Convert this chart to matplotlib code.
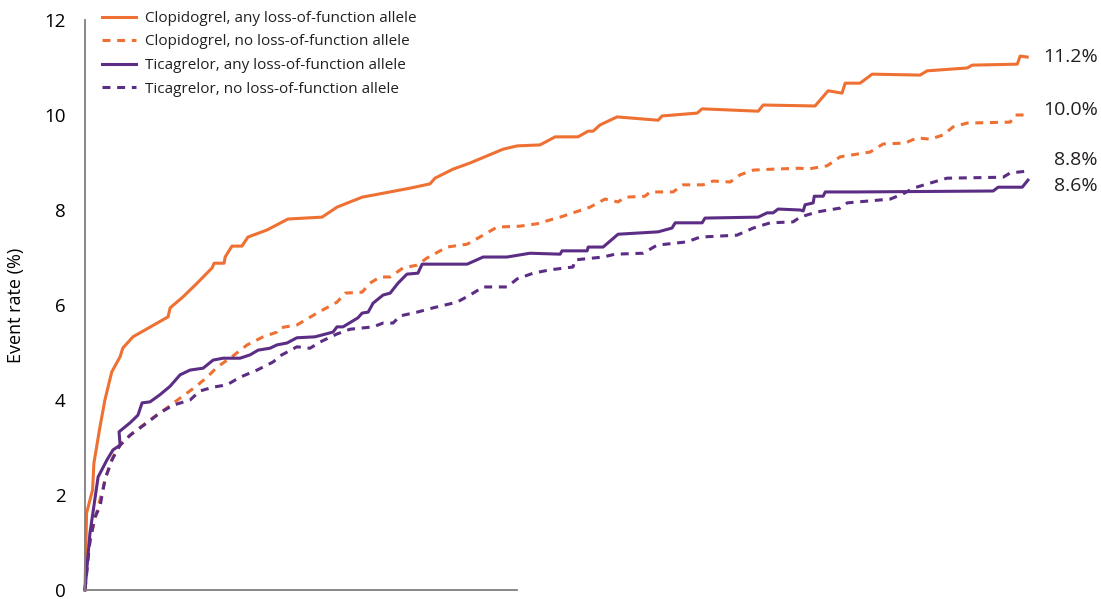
import matplotlib.pyplot as plt
import matplotlib.transforms as mtransforms

# Kaplan-Meier style cumulative event rate (%), x = days since randomisation
clop_any_days = [0, 0.6, 2.9, 3.4, 5.7, 7.6, 10.2, 13.4, 14.4, 18.3, 31.7, 32.5, 37.4, 42.8,
                 48.5, 49.3, 53.1, 53.5, 56.1, 59.9, 62.2, 69.5, 77.5, 90.5, 96.2, 105.8,
                 124.1, 131.7, 133.6, 140.5, 147.0, 159.6, 165.0, 173.7, 179.5, 188.2, 192.1,
                 194.0, 196.6, 203.1, 218.8, 220.3, 233.7, 235.6, 257.0, 258.9, 278.7, 283.7,
                 289.0, 290.2, 295.9, 300.5, 318.8, 321.5, 336.8, 338.7, 355.9, 357.0, 359.7]
clop_any_rate = [0, 1.62, 2.11, 2.67, 3.43, 4.00, 4.59, 4.91, 5.09, 5.33, 5.75, 5.94, 6.17, 6.46,
                 6.78, 6.88, 6.88, 7.01, 7.24, 7.24, 7.43, 7.58, 7.81, 7.85, 8.06, 8.27,
                 8.46, 8.55, 8.67, 8.86, 8.99, 9.28, 9.35, 9.37, 9.54, 9.54, 9.66,
                 9.66, 9.79, 9.96, 9.89, 9.98, 10.04, 10.13, 10.08, 10.21, 10.19, 10.51,
                 10.46, 10.67, 10.67, 10.86, 10.84, 10.93, 10.99, 11.05, 11.07, 11.24, 11.22]

clop_no_days = [0, 1.1, 3.1, 5.0, 8.4, 10.7, 13.4, 18.3, 24.8, 31.7, 36.3, 42.0, 46.6, 50.4,
                56.1, 61.9, 68.0, 73.3, 74.5, 80.9, 88.6, 96.2, 99.3, 105.8, 108.8, 112.6,
                116.5, 121.4, 126.8, 130.6, 138.2, 145.9, 152.0, 157.3, 166.1, 172.6, 177.5,
                181.4, 192.8, 198.5, 203.5, 206.2, 213.8, 215.7, 224.5, 228.3, 236.0, 239.8,
                246.3, 250.1, 255.1, 262.7, 273.0, 275.7, 283.3, 288.3, 299.7, 304.7, 313.1,
                317.7, 322.6, 327.6, 331.4, 336.8, 353.2, 355.1, 360.0]
clop_no_rate = [0, 0.78, 1.33, 1.75, 2.46, 2.80, 3.05, 3.31, 3.58, 3.85, 4.04, 4.27, 4.48, 4.69,
                4.91, 5.16, 5.33, 5.43, 5.52, 5.58, 5.83, 6.06, 6.25, 6.27, 6.46, 6.59,
                6.59, 6.78, 6.84, 6.99, 7.22, 7.28, 7.47, 7.64, 7.66, 7.71, 7.79,
                7.85, 8.06, 8.23, 8.17, 8.27, 8.29, 8.38, 8.38, 8.53, 8.53, 8.61,
                8.59, 8.74, 8.84, 8.86, 8.88, 8.86, 8.93, 9.12, 9.22, 9.39, 9.41,
                9.52, 9.49, 9.58, 9.75, 9.83, 9.85, 10.00, 10.00]

tica_any_days = [0, 1.9, 5.0, 8.4, 10.7, 13.4, 13.0, 17.2, 20.2, 21.8, 24.8, 28.6, 32.5, 36.3,
                 40.1, 45.1, 48.9, 52.7, 59.2, 63.0, 66.1, 70.6, 73.3, 77.1, 80.9, 87.8, 94.7,
                 96.2, 98.5, 104.2, 105.8, 108.1, 110.0, 113.8, 116.5, 119.5, 122.9, 127.1,
                 128.7, 145.9, 152.0, 161.1, 169.9, 181.4, 182.1, 191.7, 192.1, 197.8, 203.5,
                 218.8, 224.1, 225.3, 235.6, 236.7, 257.0, 260.4, 262.7, 264.6, 273.0, 274.2,
                 274.9, 278.0, 278.4, 281.8, 282.6, 294.8, 346.7, 348.6, 357.8, 360.0]
tica_any_rate = [0, 1.20, 2.38, 2.74, 2.95, 3.05, 3.33, 3.52, 3.68, 3.94, 3.96, 4.11, 4.29, 4.53,
                 4.63, 4.67, 4.84, 4.88, 4.88, 4.95, 5.05, 5.09, 5.16, 5.20, 5.31, 5.33, 5.43,
                 5.54, 5.54, 5.73, 5.83, 5.85, 6.04, 6.21, 6.25, 6.46, 6.65, 6.67,
                 6.86, 6.86, 7.01, 7.01, 7.09, 7.07, 7.14, 7.14, 7.22, 7.22, 7.49,
                 7.54, 7.62, 7.73, 7.73, 7.83, 7.85, 7.94, 7.94, 8.02, 8.00, 7.98,
                 8.11, 8.15, 8.29, 8.29, 8.38, 8.38, 8.40, 8.48, 8.48, 8.63]

tica_no_days = [0, 1.9, 3.8, 5.7, 7.6, 10.3, 13.4, 17.2, 23.7, 28.6, 33.6, 40.1, 43.9, 48.9,
                54.2, 59.2, 65.7, 71.8, 74.5, 80.9, 85.9, 89.7, 96.2, 101.2, 110.0, 113.8,
                117.6, 120.3, 126.8, 132.9, 142.0, 147.0, 152.0, 161.1, 165.0, 171.1, 177.5,
                186.3, 187.1, 197.8, 202.4, 213.1, 218.4, 229.9, 234.8, 248.9, 255.1, 261.6,
                270.3, 273.0, 279.5, 288.3, 291.0, 307.4, 312.3, 316.2, 325.3, 329.1, 350.5,
                353.2, 360.0]
tica_no_rate = [0, 1.05, 1.54, 1.75, 2.32, 2.74, 3.05, 3.26, 3.52, 3.73, 3.89, 4.00, 4.19, 4.27,
                4.32, 4.48, 4.63, 4.80, 4.93, 5.12, 5.09, 5.22, 5.39, 5.49, 5.54, 5.62,
                5.62, 5.77, 5.85, 5.94, 6.06, 6.21, 6.38, 6.38, 6.55, 6.67, 6.74,
                6.80, 6.95, 7.01, 7.07, 7.09, 7.26, 7.33, 7.43, 7.47, 7.62, 7.73,
                7.75, 7.85, 7.96, 8.04, 8.15, 8.23, 8.34, 8.46, 8.61, 8.67, 8.69,
                8.78, 8.82]

labels = ["Clopidogrel, any loss-of-function allele",
          "Clopidogrel, no loss-of-function allele",
          "Ticagrelor, any loss-of-function allele",
          "Ticagrelor, no loss-of-function allele"]
end_labels = ["11.2%", "10.0%", "8.8%", "8.6%"]
end_label_y = [11.22, 10.1, 9.05, 8.5]   # label placement (nudged apart like the original)
y_ticks = [0, 2, 4, 6, 8, 10, 12]

ORANGE = '#EE7032'
PURPLE = '#5C2D84'

plt.rcParams['font.family'] = ['Open Sans', 'DejaVu Sans']

fig = plt.figure(figsize=(11.01, 5.99), dpi=100)
ax = fig.add_axes([85 / 1101, 9 / 599, 943 / 1101, 570 / 599])

lw = 2.2
dash = (0, (2.6, 2.2))
ax.plot(clop_any_days, clop_any_rate, color=ORANGE, lw=lw, label=labels[0], clip_on=False)
ax.plot(clop_no_days, clop_no_rate, color=ORANGE, lw=lw, ls=dash, label=labels[1], clip_on=False)
ax.plot(tica_any_days, tica_any_rate, color=PURPLE, lw=lw, label=labels[2], clip_on=False)
ax.plot(tica_no_days, tica_no_rate, color=PURPLE, lw=lw, ls=dash, label=labels[3], clip_on=False)

ax.set_xlim(0, 360)
ax.set_ylim(0, 12)
ax.set_yticks(y_ticks)
ax.set_xticks([])
ax.tick_params(axis='y', length=0, pad=14, labelsize=13.5)
ax.set_ylabel("Event rate (%)", fontsize=13, labelpad=14)

for side in ['top', 'right']:
    ax.spines[side].set_visible(False)
ax.spines['left'].set_color('#7f7f7f')
ax.spines['bottom'].set_color('#7f7f7f')
ax.spines['left'].set_linewidth(1.3)
ax.spines['bottom'].set_linewidth(1.3)
ax.spines['bottom'].set_bounds(0, 165)

trans = mtransforms.blended_transform_factory(ax.transAxes, ax.transData)
for txt, yv in zip(end_labels, end_label_y):
    ax.text(1.074, yv, txt, transform=trans, ha='right', va='center', fontsize=14,
            color='#231f20', clip_on=False)

leg = ax.legend(loc='upper left', bbox_to_anchor=(0.018, 1.016), frameon=False,
                fontsize=11, handlelength=2.2, handletextpad=0.6, labelspacing=0.56,
                borderaxespad=0, borderpad=0)
for t in leg.get_texts():
    t.set_color('#231f20')

fig.savefig('out.png', dpi=100)
